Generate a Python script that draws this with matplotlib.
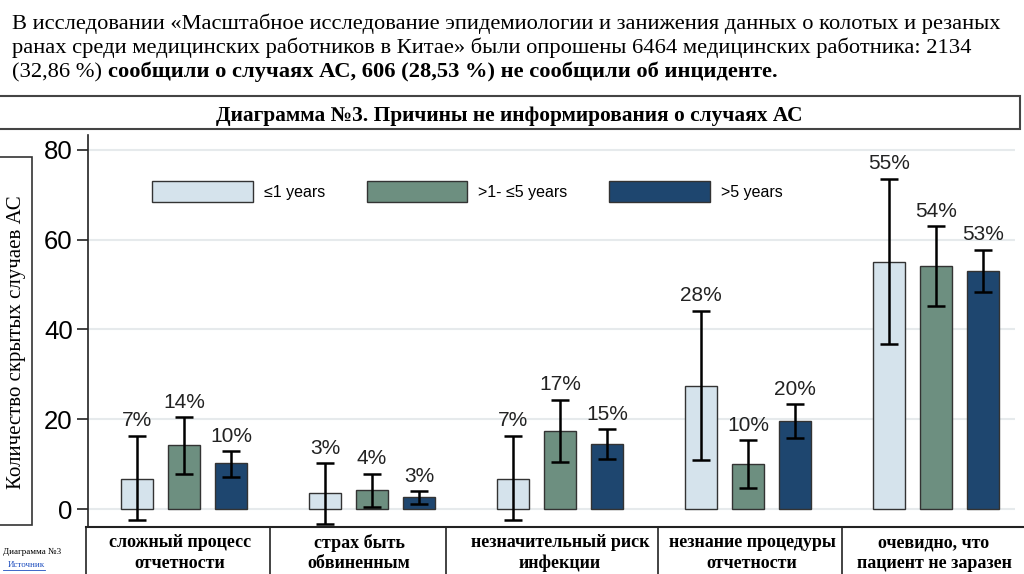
import numpy as np
import matplotlib
matplotlib.use('agg')
import matplotlib.pyplot as plt
from matplotlib.patches import Rectangle, Patch
from matplotlib.lines import Line2D

########################## data ########################################
categories = ["сложный процесс\nотчетности", "страх быть\nобвиненным",
              "незначительный риск\nинфекции", "незнание процедуры\nотчетности",
              "очевидно, что\nпациент не заразен"]
series_names = ["≤1 years", ">1- ≤5 years", ">5 years"]

le1 = [6.8, 3.5, 6.8, 27.5, 55.1]
le1_lo = [-2.4, -3.3, -2.4, 10.9, 36.7]
le1_hi = [16.3, 10.2, 16.3, 44.1, 73.5]
le1_pct = ["7%", "3%", "7%", "28%", "55%"]

mid = [14.3, 4.3, 17.4, 10.0, 54.1]
mid_lo = [7.8, 0.5, 10.5, 4.6, 45.2]
mid_hi = [20.4, 7.8, 24.3, 15.3, 63.0]
mid_pct = ["14%", "4%", "17%", "10%", "54%"]

gt5 = [10.2, 2.6, 14.5, 19.6, 53.0]
gt5_lo = [7.2, 1.2, 11.1, 15.9, 48.3]
gt5_hi = [12.9, 4.0, 17.8, 23.3, 57.7]
gt5_pct = ["10%", "3%", "15%", "20%", "53%"]

yticks = [0, 20, 40, 60, 80]

########################## style #######################################
colors = ['#d5e3ec', '#6d8f80', '#1e466f']
SERIF = 'Liberation Serif'
SANS = 'Liberation Sans'
W, H = 1024, 574

def fx(px):
    return px / W

def fy(py):
    return 1 - py / H

fig = plt.figure(figsize=(W / 100, H / 100), dpi=100)
ax = fig.add_axes([fx(88), fy(527), fx(1015) - fx(88), fy(135) - fy(527)])

x = np.arange(len(categories))
offs = [-0.25, 0.0, 0.25]
width = 0.17
allvals = [(le1, le1_lo, le1_hi, le1_pct), (mid, mid_lo, mid_hi, mid_pct),
           (gt5, gt5_lo, gt5_hi, gt5_pct)]

for k, (v, lo, hi, pct) in enumerate(allvals):
    v = np.array(v); lo = np.array(lo); hi = np.array(hi)
    xs = x + offs[k]
    ax.bar(xs, v, width, color=colors[k], edgecolor='#333333', linewidth=1.0,
           label=series_names[k], zorder=2)
    ax.errorbar(xs, v, yerr=[v - lo, hi - v], fmt='none', ecolor='black',
                elinewidth=1.8, capsize=6.5, capthick=1.8, zorder=3)
    for xi, hv, t in zip(xs, hi, pct):
        ax.annotate(t, (xi, hv), xytext=(0, 4), textcoords='offset points',
                    ha='center', va='bottom', fontsize=15, family=SANS,
                    color='#222222')

ax.set_xlim(-0.51, 4.42)
ax.set_ylim(-4, 83.3)
ax.set_yticks(yticks)
ax.set_xticks([])
ax.grid(axis='y', color='#e6eaec', linewidth=1.5, zorder=0)
for s in ['top', 'right', 'bottom']:
    ax.spines[s].set_visible(False)
ax.spines['left'].set_color('#222222')
ax.spines['left'].set_linewidth(1.2)
ax.tick_params(axis='y', length=8, width=1.2, pad=3, labelsize=18.5, color='#222222')
for lab in ax.get_yticklabels():
    lab.set_family(SANS)

handles = [Patch(facecolor=colors[k], edgecolor='#333333', linewidth=1.0)
           for k in range(3)]
ax.legend(handles, series_names, loc='center left',
          bbox_to_anchor=((152 - 88) / 927, (527 - 191.5) / 392),
          ncol=3, frameon=False, prop={'family': SANS, 'size': 11.5},
          handlelength=6.3, handleheight=1.6, handletextpad=0.7,
          columnspacing=2.6, borderpad=0, borderaxespad=0)

########################## text and boxes ##############################
line1 = "В исследовании «Масштабное исследование эпидемиологии и занижения данных о колотых и резаных"
line2 = "ранах среди медицинских работников в Китае» были опрошены 6464 медицинских работника: 2134"
line3a = "(32,86 %) "
line3b = "сообщили о случаях АС, 606 (28,53 %) не сообщили об инциденте."
fig.text(fx(12), fy(29), line1, family=SERIF, fontsize=16.2, va='baseline')
fig.text(fx(12), fy(53), line2, family=SERIF, fontsize=16.2, va='baseline')
t3 = fig.text(fx(12), fy(77), line3a, family=SERIF, fontsize=16.2, va='baseline')
fig.canvas.draw()
bb = t3.get_window_extent()
fig.text(bb.x1 / W, fy(77), line3b, family=SERIF, fontsize=16.2,
         fontweight='bold', va='baseline')

# title box
fig.add_artist(Rectangle((fx(-2), fy(129)), fx(1020) - fx(-2), fy(96) - fy(129),
                         transform=fig.transFigure, fill=False,
                         edgecolor='#444444', linewidth=1.5))
fig.text(fx(509), fy(121), "Диаграмма №3. Причины не информирования о случаях АС",
         family=SERIF, fontsize=15.4, fontweight='bold', ha='center', va='baseline')

# y label box
fig.add_artist(Rectangle((fx(-2), fy(525)), fx(32) - fx(-2), fy(157) - fy(525),
                         transform=fig.transFigure, fill=False,
                         edgecolor='#333333', linewidth=1.2))
fig.text(fx(17), fy(342), "Количество скрытых случаев АС", family=SERIF,
         fontsize=15, rotation=90, ha='center', va='center')

# category table
fig.add_artist(Line2D([fx(86), fx(1026)], [fy(527), fy(527)],
                      transform=fig.transFigure, color='#222222', linewidth=1.5))
for bx in [86, 270, 446, 658, 842]:
    fig.add_artist(Line2D([fx(bx), fx(bx)], [fy(527), fy(576)],
                          transform=fig.transFigure, color='#222222', linewidth=1.2))
cell_cx = [180, 359, 560, 752, 934]
for cx, cat in zip(cell_cx, categories):
    fig.text(fx(cx), fy(553), cat, family=SERIF, fontsize=13, fontweight='bold',
             ha='center', va='center', linespacing=1.25)

# footnote
fig.text(fx(3), fy(552), "Диаграмма №3", family=SERIF, fontsize=6.5, va='center')
src = fig.text(fx(8), fy(565), "Источник", family=SERIF, fontsize=6.5,
               va='center', color='#1f4fbf')
fig.canvas.draw()
sb = src.get_window_extent()
fig.add_artist(Line2D([fx(3), sb.x1 / W], [sb.y0 / H - 0.001, sb.y0 / H - 0.001],
                      transform=fig.transFigure, color='#1f4fbf', linewidth=0.6))

fig.savefig('out.png', dpi=100)
